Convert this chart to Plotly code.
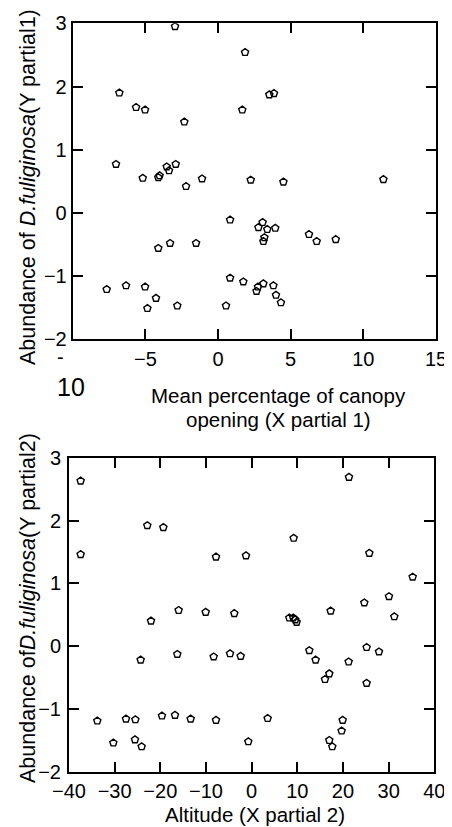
import plotly.graph_objects as go

# ---- Data: partial regression 1 (canopy opening) ----
canopy_x = [-2.96, 1.86, -6.79, -5.64, -5.02, -2.32, 1.67, 3.53, 3.85,
            -7.02, -5.18, -4.11, -4.02, -3.53, -3.37, -2.91, -2.20, -1.10, 2.25, 4.50, 11.38,
            0.83, 3.07, 2.78, 3.39, 3.94, 3.19, 3.12, 6.26, 6.79, 8.10,
            -4.11, -3.30, -1.51,
            -7.66, -6.33, -5.02, -4.27, -4.86, -2.80, 0.55, 0.83, 1.74,
            2.65, 2.75, 3.12, 3.81, 3.99, 4.33]
canopy_y = [2.95, 2.54, 1.90, 1.67, 1.63, 1.44, 1.63, 1.87, 1.89,
            0.77, 0.55, 0.56, 0.59, 0.73, 0.67, 0.77, 0.42, 0.54, 0.52, 0.49, 0.53,
            -0.11, -0.15, -0.23, -0.26, -0.24, -0.39, -0.45, -0.34, -0.45, -0.42,
            -0.56, -0.48, -0.48,
            -1.21, -1.15, -1.17, -1.35, -1.51, -1.47, -1.47, -1.03, -1.09,
            -1.24, -1.17, -1.12, -1.15, -1.30, -1.42]

# ---- Data: partial regression 2 (altitude) ----
altitude_x = [-37.45, -37.45, -22.85, -19.34, -7.81, -1.24, 9.20, 21.31, 25.77, 35.26,
              30.07, 31.24, 24.67, 17.30, 8.25, 9.12, 9.56, 9.85,
              -15.99, -10.07, -3.80, -22.04,
              -24.31, -16.28, -8.32, -4.74, -2.41, 12.63, 14.01, 17.00, 16.06, 21.24, 25.18, 27.88, 25.18,
              -33.80, -27.52, -25.47, -19.64, -16.79, -13.36, -7.81, 3.50,
              -30.29, -25.55, -24.09, -0.73, 19.93, 19.70, 17.00, 17.66]
altitude_y = [2.63, 1.46, 1.92, 1.89, 1.42, 1.44, 1.72, 2.69, 1.48, 1.10,
              0.79, 0.47, 0.69, 0.56, 0.45, 0.45, 0.42, 0.38,
              0.57, 0.54, 0.52, 0.40,
              -0.22, -0.13, -0.17, -0.12, -0.16, -0.07, -0.22, -0.44, -0.53, -0.25, -0.02, -0.09, -0.59,
              -1.19, -1.16, -1.17, -1.11, -1.10, -1.16, -1.18, -1.15,
              -1.54, -1.49, -1.60, -1.52, -1.18, -1.35, -1.50, -1.60]

top_xticks = [-5, 0, 5, 10, 15]
top_yticks = [-2, -1, 0, 1, 2, 3]
bot_xticks = [-40, -30, -20, -10, 0, 10, 20, 30, 40]
bot_yticks = [-2, -1, 0, 1, 2, 3]

# page body has an 8px margin; the figure is sized to fit inside the window
OFF = 8
W, H = 452 - OFF, 827 - OFF
FONT = "Liberation Sans, Arial, sans-serif"

def px_x(p):
    return (p - OFF) / W

def px_y(p):
    return 1 - (p - OFF) / H

marker = dict(symbol="pentagon-open", size=7.5, color="black", line=dict(width=1.4, color="black"))

fig = go.Figure()
fig.add_trace(go.Scatter(x=canopy_x, y=canopy_y, mode="markers", marker=marker,
                         xaxis="x", yaxis="y", showlegend=False))
fig.add_trace(go.Scatter(x=altitude_x, y=altitude_y, mode="markers", marker=marker,
                         xaxis="x2", yaxis="y2", showlegend=False))

axis_common = dict(showline=True, linewidth=2, linecolor="black", mirror="ticks",
                   ticks="inside", ticklen=10, tickwidth=2, tickcolor="black",
                   showgrid=False, zeroline=False, automargin=False,
                   tickfont=dict(family=FONT, size=20, color="black"))

fig.update_layout(
    width=W, height=H,
    margin=dict(l=0, r=0, t=0, b=0, pad=0, autoexpand=False),
    showlegend=False,
    paper_bgcolor="white", plot_bgcolor="white",
    xaxis=dict(axis_common, domain=[px_x(72.7), px_x(436)], range=[-10, 15],
               tickvals=top_xticks, anchor="y", ticklabelstandoff=1),
    yaxis=dict(axis_common, domain=[px_y(339.3), px_y(23.3)], range=[-2, 3],
               tickvals=top_yticks, anchor="x", ticklabelstandoff=0),
    xaxis2=dict(axis_common, domain=[px_x(69), px_x(434.3)], range=[-40, 40],
                tickvals=bot_xticks, anchor="y2", ticklabelstandoff=0),
    yaxis2=dict(axis_common, domain=[px_y(771.7), px_y(457.7)], range=[-2, 3],
                tickvals=bot_yticks, anchor="x2", ticklabelstandoff=2),
)

def ann(text, px, py, size, angle=0):
    fig.add_annotation(text=text, xref="paper", yref="paper",
                       x=px_x(px), y=px_y(py), xanchor="center", yanchor="middle",
                       showarrow=False, textangle=angle,
                       font=dict(family=FONT, size=size, color="black"))

# odd split "-10" tick label
ann("-", 60, 357, 20)
ann("10", 71, 387, 25)

# axis titles
ann("Abundance of <i>D.fuliginosa</i>(Y partial1)", 28, 187, 21.5, -90)
ann("Mean percentage of canopy", 278, 395, 20.5)
ann("opening (X partial 1)", 278, 419, 20.5)

ann("Abundance of<i>D.fuliginosa</i>(Y partial2)", 28, 608, 21.5, -90)
ann("Altitude (X partial 2)", 255, 814, 20.5)

fig.write_html("out.html")
